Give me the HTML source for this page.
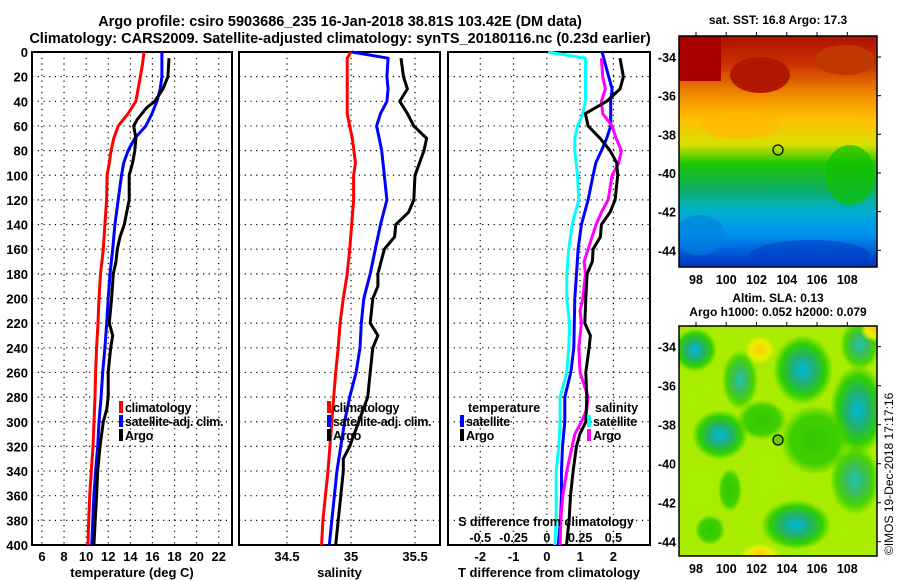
<!DOCTYPE html>
<html><head><meta charset="utf-8">
<style>
html,body{margin:0;padding:0;background:#fff;}
svg{display:block;font-family:"Liberation Sans",sans-serif;font-weight:bold;}
</style></head>
<body>
<svg id="chart" width="900" height="580" viewBox="0 0 900 580" xmlns="http://www.w3.org/2000/svg">
<defs>
<linearGradient id="sstGrad" x1="0" y1="0" x2="0" y2="1">
<stop offset="0" stop-color="#b01000"/>
<stop offset="0.12" stop-color="#c83000"/>
<stop offset="0.25" stop-color="#ee8800"/>
<stop offset="0.36" stop-color="#ffc000"/>
<stop offset="0.47" stop-color="#d8e000"/>
<stop offset="0.55" stop-color="#20c800"/>
<stop offset="0.66" stop-color="#10b060"/>
<stop offset="0.76" stop-color="#00b0d0"/>
<stop offset="0.86" stop-color="#0090f0"/>
<stop offset="1" stop-color="#0030c0"/>
</linearGradient>
<radialGradient id="eddy"><stop offset="0" stop-color="#00b8e0"/><stop offset="0.4" stop-color="#20b070"/><stop offset="0.75" stop-color="#30d000"/><stop offset="1" stop-color="#30d000" stop-opacity="0"/></radialGradient>
<radialGradient id="eddyG"><stop offset="0" stop-color="#30c800"/><stop offset="0.7" stop-color="#40d000"/><stop offset="1" stop-color="#40d000" stop-opacity="0"/></radialGradient>
<radialGradient id="warm"><stop offset="0" stop-color="#ffc800"/><stop offset="0.6" stop-color="#e8f000"/><stop offset="1" stop-color="#e8f000" stop-opacity="0"/></radialGradient>
<clipPath id="m1clip"><rect x="679" y="36" width="198" height="231"/></clipPath>
<clipPath id="m2clip"><rect x="679" y="326" width="198" height="230"/></clipPath>
</defs>

<text x="340" y="26" text-anchor="middle" font-size="14.5">Argo profile: csiro 5903686_235 16-Jan-2018 38.81S 103.42E (DM data)</text>
<text x="340" y="43" text-anchor="middle" font-size="14.5">Climatology: CARS2009. Satellite-adjusted climatology: synTS_20180116.nc (0.23d earlier)</text>

<g id="panels"></g>

<g>
<text x="778" y="24" text-anchor="middle" font-size="12">sat. SST: 16.8 Argo: 17.3</text>
<g clip-path="url(#m1clip)">
<rect x="679" y="36" width="198" height="231" fill="url(#sstGrad)"/>
<rect x="679" y="36" width="42" height="45" fill="#a80000"/>
<ellipse cx="760" cy="75" rx="30" ry="18" fill="#b01800"/>
<ellipse cx="845" cy="60" rx="30" ry="15" fill="#c03800"/>
<ellipse cx="740" cy="125" rx="40" ry="14" fill="#ffb800" opacity="0.7"/>
<ellipse cx="850" cy="175" rx="25" ry="30" fill="#10c000" opacity="0.7"/>
<ellipse cx="700" cy="235" rx="25" ry="20" fill="#0080e0" opacity="0.6"/>
<ellipse cx="810" cy="255" rx="60" ry="15" fill="#0040c8" opacity="0.6"/>
</g>
<rect x="679" y="36" width="198" height="231" fill="none" stroke="#000" stroke-width="1.5"/>
<circle cx="778" cy="150" r="5" fill="none" stroke="#000" stroke-width="1.2"/>
</g>

<g>
<text x="778" y="302" text-anchor="middle" font-size="12">Altim. SLA: 0.13</text>
<text x="778" y="316" text-anchor="middle" font-size="12">Argo h1000: 0.052 h2000: 0.079</text>
<g clip-path="url(#m2clip)">
<rect x="679" y="326" width="198" height="230" fill="#a8ec00"/>
<ellipse cx="695" cy="350" rx="22" ry="22" fill="url(#eddy)"/>
<ellipse cx="740" cy="380" rx="18" ry="30" fill="url(#eddy)" opacity="0.8"/>
<ellipse cx="803" cy="370" rx="30" ry="35" fill="url(#eddy)"/>
<ellipse cx="860" cy="345" rx="20" ry="25" fill="url(#eddy)" opacity="0.8"/>
<ellipse cx="858" cy="410" rx="28" ry="45" fill="url(#eddy)"/>
<ellipse cx="720" cy="435" rx="28" ry="25" fill="url(#eddy)"/>
<ellipse cx="762" cy="420" rx="25" ry="20" fill="url(#eddyG)"/>
<ellipse cx="815" cy="440" rx="35" ry="35" fill="url(#eddyG)"/>
<ellipse cx="855" cy="480" rx="25" ry="35" fill="url(#eddy)" opacity="0.8"/>
<ellipse cx="796" cy="525" rx="35" ry="25" fill="url(#eddy)"/>
<ellipse cx="730" cy="490" rx="12" ry="22" fill="url(#eddyG)"/>
<ellipse cx="710" cy="530" rx="15" ry="15" fill="url(#eddyG)"/>
<ellipse cx="760" cy="350" rx="15" ry="15" fill="url(#warm)"/>
<ellipse cx="760" cy="555" rx="20" ry="12" fill="url(#warm)"/>
<ellipse cx="875" cy="330" rx="15" ry="12" fill="url(#warm)"/>
</g>
<rect x="679" y="326" width="198" height="230" fill="none" stroke="#000" stroke-width="1.5"/>
<circle cx="778" cy="440" r="5" fill="#60d000" stroke="#000" stroke-width="1.2"/>
</g>
<g id="mapaxes"></g>

<text transform="translate(893,555) rotate(-90)" font-size="12" font-weight="normal">©IMOS 19-Dec-2018 17:17:16</text>
</svg>

<script>
// ---- data ----
const depthTempClim = [0,10,20,40,50,60,70,80,90,100,120,140,160,180,200,220,240,260,280,300,320,340,360,380,400];
const tempClim = [15.24,15.1,14.9,14.5,13.8,12.9,12.5,12.25,12.1,11.9,11.85,11.7,11.55,11.3,11.16,11.07,10.95,10.86,10.8,10.71,10.62,10.47,10.32,10.23,10.17];
const depthTempSat = [0,20,30,40,50,60,70,80,90,100,120,140,160,180,200,220,240,260,280,300,320,340,360,380,400];
const tempSat = [16.86,16.86,16.7,16.4,15.96,15.4,14.4,13.8,13.4,13.2,12.9,12.6,12.4,12.16,12.0,11.86,11.7,11.5,11.35,11.16,11.05,10.86,10.7,10.6,10.5];
const depthTempArgo = [5,20,30,40,45,50,55,60,70,80,90,100,120,130,140,150,160,170,180,200,220,230,240,260,280,290,300,320,340,360,380,400];
const tempArgo = [17.5,17.4,16.95,16.2,15.5,15.05,14.6,14.3,14.5,14.4,14.2,13.9,13.9,13.67,13.45,13.06,12.82,12.7,12.46,12.3,12.1,12.4,12.22,12.0,12.0,11.86,11.55,11.25,11.05,10.95,10.82,10.7];

const depthSalClim = [0,5,20,50,60,70,90,100,120,140,160,180,200,220,240,260,280,300,320,340,360,380,400];
const salClim = [35.0,34.97,34.97,34.97,34.99,35.01,35.035,35.02,35.02,35.005,34.99,34.97,34.94,34.915,34.9,34.88,34.865,34.85,34.835,34.82,34.8,34.78,34.77];
const depthSalSat = [0,5,20,30,40,50,60,70,80,100,120,140,160,180,200,220,240,260,280,300,320,340,360,380,400];
const salSat = [35.005,35.29,35.28,35.29,35.28,35.23,35.2,35.22,35.24,35.26,35.28,35.23,35.19,35.15,35.1,35.08,35.07,35.04,34.99,34.95,34.92,34.89,34.87,34.85,34.83];
const depthSalArgo = [5,20,30,40,50,60,70,80,100,120,130,140,150,160,180,190,200,220,230,240,260,280,300,320,330,340,360,380,400];
const salArgo = [35.39,35.41,35.44,35.38,35.44,35.49,35.59,35.57,35.5,35.49,35.45,35.35,35.34,35.26,35.21,35.21,35.17,35.15,35.21,35.17,35.15,35.13,35.06,34.99,34.94,34.94,34.92,34.9,34.88];

const depthDiffSSat = [0,5,20,40,50,60,70,80,90,100,120,140,160,180,200,220,240,260,280,300,320,340,360,380,400];
const diffSSat = [0.01,0.29,0.29,0.29,0.27,0.23,0.21,0.21,0.22,0.23,0.24,0.19,0.165,0.15,0.15,0.17,0.165,0.15,0.1,0.1,0.09,0.07,0.07,0.07,0.06];
const depthDiffSArgo = [5,20,30,40,50,60,70,80,90,100,120,130,140,150,160,170,180,200,210,220,240,260,280,290,300,310,320,340,360,380,400];
const diffSArgo = [0.41,0.42,0.44,0.41,0.42,0.49,0.52,0.56,0.54,0.49,0.46,0.41,0.37,0.34,0.31,0.28,0.29,0.27,0.25,0.26,0.24,0.25,0.31,0.3,0.26,0.21,0.19,0.15,0.12,0.105,0.1];
const depthDiffTSat = [0,20,30,40,60,70,80,90,100,120,140,160,180,200,240,260,280,300,320,340,360,380,400];
const diffTSat = [1.66,1.86,1.96,1.92,1.92,1.8,1.64,1.47,1.39,1.24,1.04,0.94,0.89,0.84,0.81,0.72,0.54,0.54,0.47,0.44,0.44,0.41,0.34];
const depthDiffTArgo = [5,20,30,40,50,60,70,80,90,100,120,130,140,150,160,170,180,200,220,230,240,260,280,300,310,320,340,360,380,400];
const diffTArgo = [2.2,2.3,2.2,1.8,1.16,1.24,1.6,1.9,2.1,2.13,2.05,1.9,1.64,1.61,1.39,1.37,1.21,1.17,1.14,1.31,1.27,1.17,1.2,1.17,0.99,0.89,0.79,0.71,0.67,0.59];

const depthTicks = [0,20,40,60,80,100,120,140,160,180,200,220,240,260,280,300,320,340,360,380,400];
const tempTicks = [6,8,10,12,14,16,18,20,22];
const salTicks = [34.5,35,35.5];
const tdiffTicks = [-2,-1,0,1,2];
const sdiffTicks = [-0.5,-0.25,0,0.25,0.5];
const latTicks = [-34,-36,-38,-40,-42,-44];
const lonTicks = [98,100,102,104,106,108];

// ---- scales ----
const Y0 = 52, Y1 = 545;
function yD(d){ return Y0 + d*(Y1-Y0)/400; }
const P1 = {x0:32, x1:232, min:5.1, max:23.2};
const P2 = {x0:239, x1:440, min:34.125, max:35.695};
const P3 = {x0:448, x1:650, min:-2.97, max:3.1};
function sx(p,v){ return p.x0 + (v-p.min)*(p.x1-p.x0)/(p.max-p.min); }
function sxS(v){ return sx(P3, v*4); }

const NS = "http://www.w3.org/2000/svg";
const root = document.getElementById('panels');
function mk(tag, attrs, parent){
  const e = document.createElementNS(NS, tag);
  for (const k in attrs) e.setAttribute(k, attrs[k]);
  (parent||root).appendChild(e);
  return e;
}

function panel(p, name, xt, xfn, ylabels, xtitle){
  const g = mk('g', {});
  
  
  depthTicks.forEach(d => {
    const l = mk('line', {x1:p.x0, x2:p.x1, y1:yD(d), y2:yD(d), stroke:'#000', 'stroke-width':1.2, 'stroke-dasharray':'1.2,4.5'}, g);
    
    
    if (ylabels){
      const t = mk('text', {x:p.x0-4, y:yD(d)+5, 'text-anchor':'end', 'font-size':13}, g);
      t.textContent = d;
      
      
    }
  });
  xt.forEach(v => {
    const x = xfn(v);
    const l = mk('line', {x1:x, x2:x, y1:Y0, y2:Y1, stroke:'#000', 'stroke-width':1.2, 'stroke-dasharray':'1.2,4.5'}, g);
    
    
    const t = mk('text', {x:x, y:561, 'text-anchor':'middle', 'font-size':13}, g);
    t.textContent = v;
    
    
  });
  const f = mk('rect', {x:p.x0, y:Y0, width:p.x1-p.x0, height:Y1-Y0, fill:'none', stroke:'#000', 'stroke-width':2}, g);
  
  
  const tt = mk('text', {x:(p.x0+p.x1)/2, y:577, 'text-anchor':'middle', 'font-size':13}, g);
  tt.textContent = xtitle;
  
  
  return g;
}

function series(g, depths, vals, fx, color, name){
  const pts = depths.map((d,i) => fx(vals[i]).toFixed(1)+','+yD(d).toFixed(1)).join(' ');
  const pl = mk('polyline', {points:pts, fill:'none', stroke:color, 'stroke-width':3, 'stroke-linejoin':'round'}, g);
  
  
}

function legend(g, x, y, color, label, name){
  const r = mk('rect', {x:x, y:y-11, width:4, height:12, fill:color}, g);
  
  
  const t = mk('text', {x:x+6, y:y, 'font-size':12.5, 'letter-spacing':'-0.3'}, g);
  t.textContent = label;
  
  
}

const g1 = panel(P1, 'temperature-panel', tempTicks, v=>sx(P1,v), true, 'temperature (deg C)');
series(g1, depthTempClim, tempClim, v=>sx(P1,v), '#ff0000', 'temp-climatology-line');
series(g1, depthTempSat, tempSat, v=>sx(P1,v), '#0000ff', 'temp-satellite-line');
series(g1, depthTempArgo, tempArgo, v=>sx(P1,v), '#000000', 'temp-argo-line');
legend(g1, 119, 412, '#ff0000', 'climatology', 'legend-climatology');
legend(g1, 119, 426, '#0000ff', 'satellite-adj. clim.', 'legend-satellite');
legend(g1, 119, 440, '#000000', 'Argo', 'legend-argo');

const g2 = panel(P2, 'salinity-panel', salTicks, v=>sx(P2,v), false, 'salinity');
series(g2, depthSalClim, salClim, v=>sx(P2,v), '#ff0000', 'sal-climatology-line');
series(g2, depthSalSat, salSat, v=>sx(P2,v), '#0000ff', 'sal-satellite-line');
series(g2, depthSalArgo, salArgo, v=>sx(P2,v), '#000000', 'sal-argo-line');
legend(g2, 327, 412, '#ff0000', 'climatology', 'legend-climatology');
legend(g2, 327, 426, '#0000ff', 'satellite-adj. clim.', 'legend-satellite');
legend(g2, 327, 440, '#000000', 'Argo', 'legend-argo');

const g3 = panel(P3, 'difference-panel', tdiffTicks, v=>sx(P3,v), false, 'T difference from climatology');
series(g3, depthDiffSSat, diffSSat, sxS, '#00ffff', 'sdiff-satellite-line');
series(g3, depthDiffTSat, diffTSat, v=>sx(P3,v), '#0000ff', 'tdiff-satellite-line');
series(g3, depthDiffSArgo, diffSArgo, sxS, '#ff00ff', 'sdiff-argo-line');
series(g3, depthDiffTArgo, diffTArgo, v=>sx(P3,v), '#000000', 'tdiff-argo-line');
const lt = mk('text', {x:468, y:412, 'font-size':12.5}, g3); lt.textContent='temperature';


const ls = mk('text', {x:595, y:412, 'font-size':12.5}, g3); ls.textContent='salinity';


legend(g3, 460, 426, '#0000ff', 'satellite', 'legend-t-satellite');
legend(g3, 460, 440, '#000000', 'Argo', 'legend-t-argo');
legend(g3, 587, 426, '#00ffff', 'satellite', 'legend-s-satellite');
legend(g3, 587, 440, '#ff00ff', 'Argo', 'legend-s-argo');
const st = mk('text', {x:546, y:526, 'text-anchor':'middle', 'font-size':12.5}, g3); st.textContent='S difference from climatology';


sdiffTicks.forEach(v => {
  const t = mk('text', {x:sxS(v), y:542, 'text-anchor':'middle', 'font-size':12.5}, g3);
  t.textContent = v;
  
  
});

const ma = document.getElementById('mapaxes');
function mapAxes(y0, y1, latY0, latStep){
  lonTicks.forEach(lon => {
    const x = 696 + (lon-98)*15.13;
    const l1 = mk('line', {x1:x, x2:x, y1:y0, y2:y0-4, stroke:'#000', 'stroke-width':1}, ma);
    
    
    const t = mk('text', {x:x, y:y1+17, 'text-anchor':'middle', 'font-size':12.5}, ma);
    t.textContent = lon;
    
    
  });
  latTicks.forEach(lat => {
    const y = latY0 + (-34-lat)*latStep;
    const l = mk('line', {x1:877, x2:881, y1:y, y2:y, stroke:'#000', 'stroke-width':1}, ma);
    
    
    const t = mk('text', {x:676, y:y+5, 'text-anchor':'end', 'font-size':12.5}, ma);
    t.textContent = lat;
    
    
  });
}
mapAxes(36, 267, 57, 19.33);
mapAxes(326, 556, 346.7, 19.5);
</script>
</body></html>
